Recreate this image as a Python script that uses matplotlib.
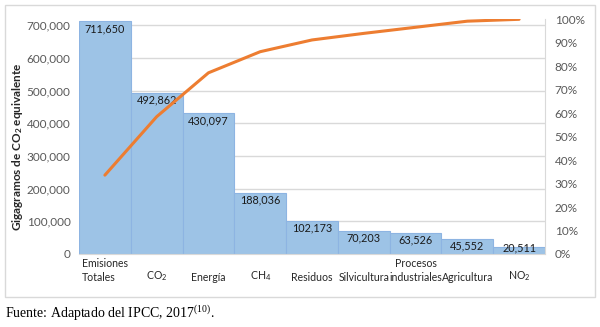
import numpy as np
import matplotlib
matplotlib.use("Agg")
import matplotlib.pyplot as plt
import matplotlib.transforms as mtransforms
from matplotlib.patches import Rectangle

plt.rcParams["font.family"] = ["Lato", "DejaVu Sans"]
plt.rcParams["mathtext.default"] = "regular"

# --- Data ---
categories = ["Emisiones\nTotales", "CO$_2$", "Energía", "CH$_4$", "Residuos",
              "Silvicultura", "Procesos\nindustriales", "Agricultura", "NO$_2$"]
emissions = [711650, 492862, 430097, 188036, 102173, 70203, 63526, 45552, 20511]
cumulative_pct = [33.6, 58.5, 77.2, 86.2, 91.2, 94.0, 96.6, 99.2, 100.0]

W, H = 600, 327
fig = plt.figure(figsize=(W / 100, H / 100), dpi=100)

# outer chart frame
fig.patches.append(Rectangle((5 / W, 1 - 297 / H), 590 / W, 292 / H,
                             transform=fig.transFigure, fill=False,
                             edgecolor="#D9D9D9", linewidth=1))

ax_h = 254 - 19.3
ax = fig.add_axes([79 / W, 1 - 254 / H, (545 - 79) / W, ax_h / H])
x = np.arange(len(categories))

ymax = 700000 * 235 / 229
ax.bar(x, emissions, width=1.0, color="#9DC3E6", edgecolor="#8DB4E2",
       linewidth=0.8, zorder=2)
ax.set_xlim(-0.5, len(categories) - 0.5)
ax.set_ylim(0, ymax)
ax.set_yticks(np.arange(0, 700001, 100000))
ax.set_yticklabels([f"{v:,}" for v in range(0, 700001, 100000)])
ax.tick_params(axis="y", length=0, labelsize=8.5, labelcolor="#595959", pad=6)
ax.grid(axis="y", color="#D9D9D9", linewidth=1, zorder=0)
ax.set_axisbelow(True)
for s in ["top", "right", "left"]:
    ax.spines[s].set_visible(False)
ax.spines["bottom"].set_color("#D9D9D9")

# value labels inside bar tops (kept clear of the baseline for short bars)
per_px = ymax / ax_h
for xi, v in zip(x, emissions):
    yc = max(v - 7 * per_px, 6 * per_px)
    ax.text(xi, yc, f"{v:,}", ha="center", va="center", fontsize=7.8,
            color="#1a1a1a", zorder=4)

# category labels, bottom-aligned like the spreadsheet axis
ax.set_xticks(x)
ax.set_xticklabels([""] * len(x))
ax.tick_params(axis="x", length=0)
trans = mtransforms.blended_transform_factory(ax.transData, ax.transAxes)
for xi, lab in zip(x, categories):
    ax.text(xi, -29 / ax_h, lab, transform=trans, ha="center",
            va="bottom", fontsize=7.6, color="#262626",
            multialignment="left" if xi == 0 else "center", linespacing=1.35)

ax.set_ylabel("Gigagramos de CO$_2$ equivalente", fontsize=8.5,
              fontweight="bold", color="#262626")
ax.yaxis.set_label_coords((25 - 79) / 466, (254 - 147) / ax_h)

# cumulative share on secondary axis
ax2 = ax.twinx()
ax2.plot(x, np.array(cumulative_pct) / 100, color="#ED7D31", linewidth=2.2,
         zorder=5, solid_capstyle="round")
ax2.set_ylim(0, 1.0)
ax2.set_yticks(np.arange(0, 1.01, 0.1))
ax2.set_yticklabels([f"{p}%" for p in range(0, 101, 10)])
ax2.tick_params(axis="y", length=0, labelsize=8.5, labelcolor="#595959", pad=7)
for s in ["top", "left", "bottom"]:
    ax2.spines[s].set_visible(False)
ax2.spines["right"].set_color("#D9D9D9")

fig.text(5 / W, 1 - 313 / H, "Fuente: Adaptado del IPCC, 2017$^{(10)}$.",
         fontsize=10, family="Liberation Serif", va="center", ha="left")

fig.savefig("out.png", dpi=100)
